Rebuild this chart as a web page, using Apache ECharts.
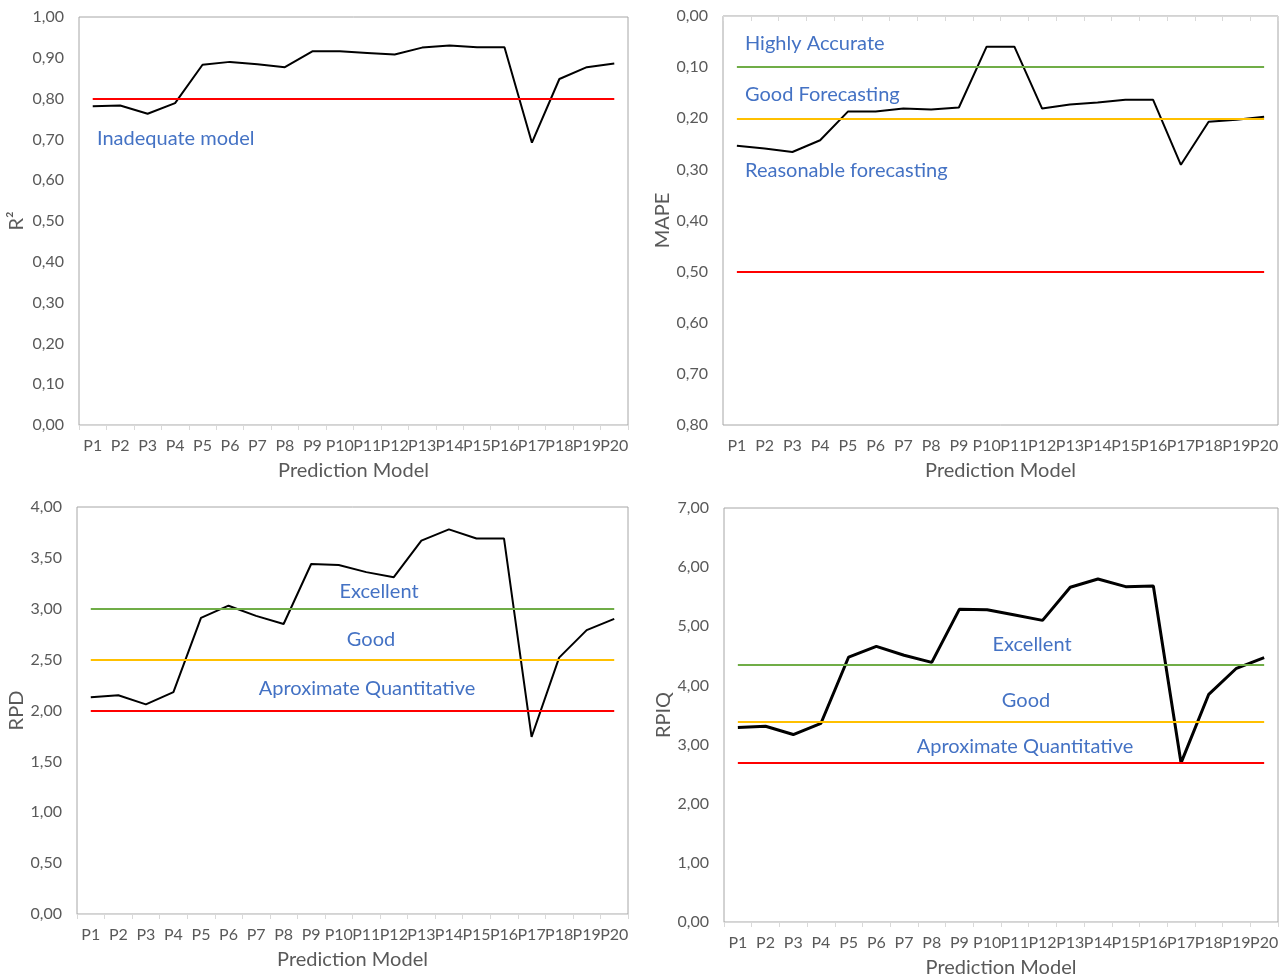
<!DOCTYPE html>
<html>
<head>
<meta charset="utf-8">
<title>Prediction model performance</title>
<script src="https://cdn.jsdelivr.net/npm/echarts@6/dist/echarts.min.js"></script>
<style>
  html, body { margin: 0; padding: 0; background: #ffffff; }
  #chart { width: 1288px; height: 979px; }
</style>
</head>
<body>
<div id="chart"></div>
<script>
// Prediction models on the category axis
const categories = ['P1','P2','P3','P4','P5','P6','P7','P8','P9','P10',
                    'P11','P12','P13','P14','P15','P16','P17','P18','P19','P20'];

// Metric values per model
const r2Values   = [0.781, 0.783, 0.763, 0.789, 0.883, 0.890, 0.884, 0.877, 0.916, 0.916,
                    0.912, 0.908, 0.925, 0.930, 0.926, 0.926, 0.692, 0.848, 0.877, 0.886];
const mapeValues = [0.254, 0.259, 0.266, 0.243, 0.187, 0.187, 0.181, 0.183, 0.179, 0.060,
                    0.060, 0.181, 0.173, 0.169, 0.164, 0.164, 0.291, 0.207, 0.203, 0.197];
const rpdValues  = [2.13, 2.15, 2.06, 2.18, 2.91, 3.03, 2.93, 2.85, 3.44, 3.43,
                    3.36, 3.31, 3.67, 3.78, 3.69, 3.69, 1.74, 2.52, 2.79, 2.90];
const rpiqValues = [3.29, 3.31, 3.17, 3.36, 4.48, 4.66, 4.51, 4.39, 5.29, 5.28,
                    5.19, 5.10, 5.66, 5.80, 5.67, 5.68, 2.69, 3.85, 4.29, 4.47];

// Classification thresholds (value, colour)
const r2Thresholds   = [[0.80, '#FF0000']];
const mapeThresholds = [[0.10, '#70AD47'], [0.20, '#FFC000'], [0.50, '#FF0000']];
const rpdThresholds  = [[3.00, '#70AD47'], [2.50, '#FFC000'], [2.00, '#FF0000']];
const rpiqThresholds = [[4.35, '#70AD47'], [3.38, '#FFC000'], [2.70, '#FF0000']];

// Axis ranges: [min, max, interval]
const r2Range   = [0, 1, 0.1];
const mapeRange = [0, 0.8, 0.1];
const rpdRange  = [0, 4, 0.5];
const rpiqRange = [0, 7, 1];

const FONT = 'Lato, "Open Sans", sans-serif';
const GREY = '#595959';
const BLUE = '#4472C4';

const grids = [
  { left: 79,  top: 17,  width: 549, height: 408 },
  { left: 723, top: 16,  width: 555, height: 409 },
  { left: 77,  top: 507, width: 551, height: 407 },
  { left: 724, top: 508, width: 554, height: 414 }
];

const panels = [
  { name: 'R²',   values: r2Values,   thresholds: r2Thresholds,   range: r2Range,   inverse: false, nameGap: 52, width: 2 },
  { name: 'MAPE', values: mapeValues, thresholds: mapeThresholds, range: mapeRange, inverse: true,  nameGap: 44, width: 2 },
  { name: 'RPD',  values: rpdValues,  thresholds: rpdThresholds,  range: rpdRange,  inverse: false, nameGap: 50, width: 2 },
  { name: 'RPIQ', values: rpiqValues, thresholds: rpiqThresholds, range: rpiqRange, inverse: false, nameGap: 45, width: 3 }
];

const fmt = v => v.toFixed(2).replace('.', ',');

const grid = grids.map(g => Object.assign({
  show: true, borderColor: '#a6a6a6', borderWidth: 1, containLabel: false
}, g));

const xAxis = panels.map((p, i) => ({
  type: 'category',
  gridIndex: i,
  data: categories,
  boundaryGap: true,
  name: 'Prediction Model',
  nameLocation: 'middle',
  nameGap: 36,
  nameTextStyle: { color: GREY, fontSize: 20, fontFamily: FONT },
  axisLine: { show: true, lineStyle: { color: '#d9d9d9', width: 1 } },
  axisTick: { show: true, length: 5, interval: 0, lineStyle: { color: '#d9d9d9' } },
  axisLabel: { interval: 0, color: GREY, fontSize: 16, fontFamily: FONT, margin: 13 },
  splitLine: { show: false }
}));

const yAxis = panels.map((p, i) => ({
  type: 'value',
  gridIndex: i,
  min: p.range[0],
  max: p.range[1],
  interval: p.range[2],
  inverse: p.inverse,
  name: p.name,
  nameLocation: 'middle',
  nameGap: p.nameGap,
  nameRotate: 90,
  nameTextStyle: { color: GREY, fontSize: 20, fontFamily: FONT },
  axisLine: { show: false },
  axisTick: { show: false },
  splitLine: { show: false },
  axisLabel: { color: GREY, fontSize: 16, fontFamily: FONT, margin: 15, formatter: fmt }
}));

const series = [];
panels.forEach((p, i) => {
  // threshold lines spanning first to last model
  series.push({
    type: 'line',
    xAxisIndex: i,
    yAxisIndex: i,
    data: [],
    silent: true,
    markLine: {
      silent: true,
      symbol: ['none', 'none'],
      label: { show: false },
      animation: false,
      data: p.thresholds.map(t => [
        { coord: [0, t[0]], lineStyle: { color: t[1], width: 2, type: 'solid' } },
        { coord: [categories.length - 1, t[0]] }
      ])
    }
  });
  // metric line
  series.push({
    type: 'line',
    xAxisIndex: i,
    yAxisIndex: i,
    data: p.values,
    symbol: 'none',
    smooth: false,
    lineStyle: { color: '#000000', width: p.width },
    z: 3
  });
});

// Classification labels inside each panel
const notes = [
  { text: 'Inadequate model',       x: 97,   y: 139, align: 'left' },
  { text: 'Highly Accurate',        x: 745,  y: 44,  align: 'left' },
  { text: 'Good Forecasting',       x: 745,  y: 95,  align: 'left' },
  { text: 'Reasonable forecasting', x: 745,  y: 171, align: 'left' },
  { text: 'Excellent',              x: 379,  y: 592, align: 'center' },
  { text: 'Good',                   x: 371,  y: 640, align: 'center' },
  { text: 'Aproximate Quantitative',x: 367,  y: 689, align: 'center' },
  { text: 'Excellent',              x: 1032, y: 645, align: 'center' },
  { text: 'Good',                   x: 1026, y: 701, align: 'center' },
  { text: 'Aproximate Quantitative',x: 1025, y: 747, align: 'center' }
];

const graphic = notes.map(n => ({
  type: 'text',
  x: n.x,
  y: n.y,
  z: 10,
  silent: true,
  style: {
    text: n.text,
    fill: BLUE,
    font: '20px ' + FONT,
    textAlign: n.align,
    textVerticalAlign: 'middle'
  }
}));

const chart = echarts.init(document.getElementById('chart'), null, { renderer: 'canvas' });
chart.setOption({
  backgroundColor: '#ffffff',
  animation: false,
  grid: grid,
  xAxis: xAxis,
  yAxis: yAxis,
  series: series,
  graphic: graphic
});
</script>
</body>
</html>
